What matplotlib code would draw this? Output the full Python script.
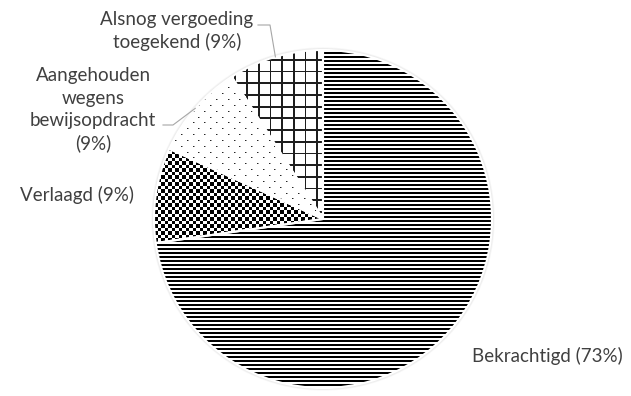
import numpy as np
import matplotlib
matplotlib.use("Agg")
import matplotlib.pyplot as plt
from matplotlib.patches import Circle

# data
names = ["Bekrachtigd", "Verlaagd", "Aangehouden\nwegens\nbewijsopdracht", "Alsnog vergoeding\ntoegekend"]
counts = [8, 1, 1, 1]
pct_sep = [" ", " ", "\n", " "]

# layout (pixels of the 631x396 picture)
W, H = 631, 396
cx, cy, R = 323, 219, 169          # pie centre and radius
label_px = [(547, 356), (77, 195), (93, 110), (177, 31)]
elbow_px = [None, None, (173, 125), (270, 25)]
line_end_px = [None, None, 163, 258]
text_color = "#404040"
line_color = "#a6a6a6"

def to_data(px, py):
    return (px - cx) / R, (cy - py) / R

fig = plt.figure(figsize=(W / 100, H / 100), dpi=100)
ax = fig.add_axes([0, 0, 1, 1])

wedges, _ = ax.pie(counts, startangle=90, counterclock=False,
                   colors=["white"] * len(counts),
                   wedgeprops=dict(edgecolor="white", linewidth=1.5))

x0, x1 = -cx / R, (W - cx) / R
y0, y1 = -(H - cy) / R, cy / R
ax.set_xlim(x0, x1)
ax.set_ylim(y0, y1)
ax.set_aspect("equal")
ax.axis("off")

# faint soft edge round the pie
for i in range(5):
    ax.add_patch(Circle((0, 0), 1 + 0.004 * i, color="0.5", alpha=0.06, lw=0, zorder=0))

# fill patterns, built per pixel so they stay crisp
r, c = np.mgrid[0:H, 0:W].astype(float)
stripes = np.where(r % 4 < 2, 0.0, 1.0)
checker = np.where((np.floor(r / 3.5) + np.floor(c / 3.5)) % 2 == 0, 0.0, 1.0)
grid = np.where((r % 11.7 < 1.8) | (c % 11.7 < 1.8), 0.12, 1.0)
dots = np.ones((H, W))
for k, y in enumerate(np.arange(0, H, 5.85)):
    xs = np.arange((k % 2) * 5.85, W - 1, 11.7).astype(int)
    dots[int(y), xs] = 0.15
    dots[int(y), xs + 1] = 0.6
patterns = [stripes, checker, dots, grid]

for w, pat in zip(wedges, patterns):
    im = ax.imshow(pat, cmap="gray", vmin=0, vmax=1, extent=(x0, x1, y0, y1),
                   interpolation="nearest", zorder=2)
    im.set_clip_path(w)
    w.set_facecolor("none")
    w.set_zorder(3)

# labels and leader lines
total = sum(counts)
for i, (w, name) in enumerate(zip(wedges, names)):
    pct = round(100 * counts[i] / total)
    tx, ty = to_data(*label_px[i])
    ax.text(tx, ty, f"{name}{pct_sep[i]}({pct}%)", ha="center", va="center",
            multialignment="center", fontsize=13.5, family="Lato",
            color=text_color, linespacing=1.38, zorder=5)
    if elbow_px[i] is not None:
        mid = np.deg2rad((w.theta1 + w.theta2) / 2)
        ex, ey = to_data(*elbow_px[i])
        lx, _ = to_data(line_end_px[i], 0)
        ax.plot([np.cos(mid), ex, lx], [np.sin(mid), ey, ey],
                color=line_color, lw=0.8, zorder=4)

fig.savefig("out.png", dpi=100)
